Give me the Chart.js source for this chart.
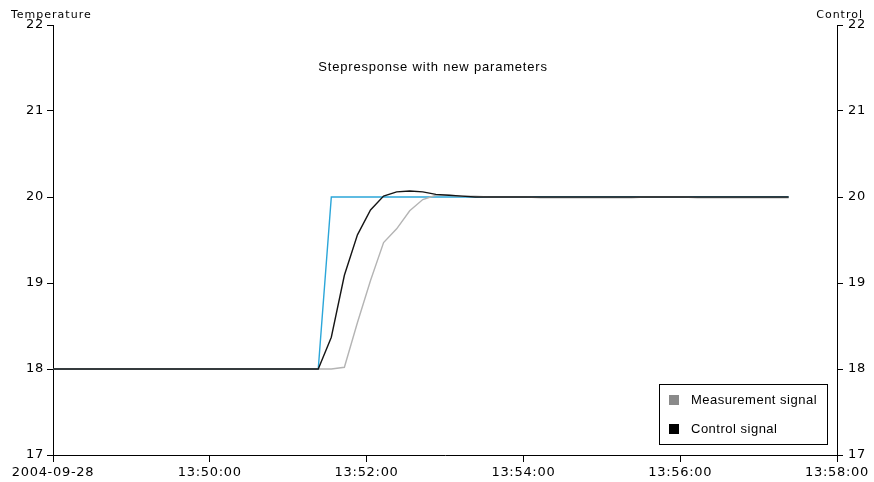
<!DOCTYPE html>
<html>
<head>
<meta charset="utf-8">
<script src="https://cdn.jsdelivr.net/npm/chart.js@4/dist/chart.umd.min.js"></script>
<style>
  html, body { margin: 0; padding: 0; background: #fff; }
  #wrap { width: 874px; height: 482px; position: relative; }
</style>
</head>
<body>
<div id="wrap"><canvas id="c" width="874" height="482"></canvas></div>
<script>
// ---- data (seconds after 13:48:00) ----
const chartTitle = 'Stepresponse with new parameters';
const leftAxisTitle = 'Temperature';
const rightAxisTitle = 'Control';
const xTickLabels = ['2004-09-28', '13:50:00', '13:52:00', '13:54:00', '13:56:00', '13:58:00'];
const yTickValues = [17, 18, 19, 20, 21, 22];

const times = [
  -7, 3, 13, 23, 33, 43, 53, 63, 73, 83, 93, 103, 113, 123, 133, 143, 153, 163, 173, 183, 193,
  203, 213, 223, 233, 243, 253, 263, 273, 283, 293, 303, 313, 323, 333, 343, 353, 363, 373,
  383, 393, 403, 413, 423, 433, 443, 453, 463, 473, 483, 493, 503, 513, 523, 533, 543, 553, 563
];
const controlSignal = [
  18, 18, 18, 18, 18, 18, 18, 18, 18, 18, 18, 18, 18, 18, 18, 18, 18, 18, 18, 18, 18,
  18, 18.37, 19.09, 19.56, 19.85, 20.01, 20.06, 20.07, 20.06, 20.03, 20.02, 20.01, 20, 20, 20, 20, 20, 20,
  20, 20, 20, 20, 20, 20, 20, 20, 20, 20, 20, 20, 20, 20, 20, 20, 20, 20, 20
];
const measurementSignal = [
  18, 18, 18, 18, 18, 18, 18, 18, 18, 18, 18, 18, 18, 18, 18, 18, 18, 18, 18, 18, 18,
  18, 18, 18.02, 18.54, 19.03, 19.47, 19.63, 19.84, 19.97, 20.02, 20.02, 20.01, 20.01, 20, 20, 20, 20, 19.99,
  19.99, 19.99, 19.99, 19.99, 19.99, 19.99, 19.99, 20, 20, 20, 20, 19.99, 19.99, 19.99, 19.99, 19.99, 19.99, 19.99, 19.99
];
const setpoint = [
  18, 18, 18, 18, 18, 18, 18, 18, 18, 18, 18, 18, 18, 18, 18, 18, 18, 18, 18, 18, 18,
  18, 20, 20, 20, 20, 20, 20, 20, 20, 20, 20, 20, 20, 20, 20, 20, 20, 20,
  20, 20, 20, 20, 20, 20, 20, 20, 20, 20, 20, 20, 20, 20, 20, 20, 20, 20, 20
];

const toXY = arr => times.map((t, i) => ({ x: t, y: arr[i] }));

const tickFont = { family: "'DejaVu Sans', Verdana, sans-serif", size: 13 };
const TICK_SPACING = '0.7px';

const spacingPlugin = {
  id: 'spacing',
  beforeUpdate(chart) { chart.ctx.letterSpacing = TICK_SPACING; },
  beforeLayout(chart) { chart.ctx.letterSpacing = TICK_SPACING; },
  beforeDraw(chart) { chart.ctx.letterSpacing = TICK_SPACING; }
};

const decorPlugin = {
  id: 'decor',
  afterDraw(chart) {
    const ctx = chart.ctx;
    const a = chart.chartArea;
    ctx.save();
    // chart title inside plot
    ctx.letterSpacing = '0.8px';
    ctx.fillStyle = '#000';
    ctx.font = "13px 'Liberation Sans', Arial, sans-serif";
    ctx.textAlign = 'center';
    ctx.textBaseline = 'middle';
    ctx.fillText(chartTitle, (a.left + a.right) / 2 - 12, a.top + 42);
    // axis titles
    ctx.letterSpacing = '1px';
    ctx.font = "11px 'DejaVu Sans', Verdana, sans-serif";
    ctx.textAlign = 'left';
    ctx.fillText(leftAxisTitle, 11, a.top - 10);
    ctx.textAlign = 'right';
    ctx.fillText(rightAxisTitle, a.right + 26, a.top - 10);
    // legend box
    const bx = a.right - 178, by = a.bottom - 71, bw = 168, bh = 60;
    ctx.fillStyle = '#fff';
    ctx.fillRect(bx, by, bw, bh);
    ctx.strokeStyle = '#000';
    ctx.lineWidth = 1;
    ctx.strokeRect(bx + 0.5, by + 0.5, bw, bh);
    ctx.letterSpacing = '0.5px';
    ctx.font = "13px 'Liberation Sans', Arial, sans-serif";
    ctx.textAlign = 'left';
    ctx.textBaseline = 'middle';
    const items = chart.data.datasets.filter(d => d.showInLegend).sort((p, q) => p.legendOrder - q.legendOrder);
    items.forEach((d, i) => {
      const cy = by + 16 + i * 29;
      ctx.fillStyle = d.legendColor;
      ctx.fillRect(bx + 10, cy - 5, 10, 10);
      ctx.fillStyle = '#000';
      ctx.fillText(d.label, bx + 32, cy);
    });
    ctx.restore();
  }
};

new Chart(document.getElementById('c'), {
  type: 'line',
  data: {
    datasets: [
      { label: 'Control signal', data: toXY(controlSignal), borderColor: '#151515', borderWidth: 1.4,
        showInLegend: true, legendOrder: 1, legendColor: '#000', yAxisID: 'y' },
      { label: 'Measurement signal', data: toXY(measurementSignal), borderColor: '#b4b4b4', borderWidth: 1.4,
        showInLegend: true, legendOrder: 0, legendColor: '#8a8a8a', yAxisID: 'y' },
      { label: 'Setpoint', data: toXY(setpoint), borderColor: '#2ba6d9', borderWidth: 1.4,
        showInLegend: false, yAxisID: 'y' }
    ]
  },
  options: {
    responsive: false,
    animation: false,
    devicePixelRatio: 1,
    layout: { padding: { top: 25, left: 0, right: 0, bottom: 0 } },
    elements: { point: { radius: 0 }, line: { tension: 0 } },
    plugins: { legend: { display: false }, title: { display: false }, tooltip: { enabled: false } },
    scales: {
      x: {
        type: 'linear', position: 'bottom', min: 0, max: 600,
        afterBuildTicks(s) { s.ticks = xTickLabels.map((_, i) => ({ value: i * 120 })); },
        ticks: {
          callback: (v, i) => xTickLabels[i],
          color: '#000', font: tickFont, padding: 3, maxRotation: 0, autoSkip: false
        },
        grid: { drawOnChartArea: false, drawTicks: true, tickLength: 7, color: '#000', lineWidth: 1 },
        border: { display: true, color: '#000', width: 1 },
        afterFit(s) { s.height = 27; }
      },
      y: {
        position: 'left', min: 17, max: 22,
        afterBuildTicks(s) { s.ticks = yTickValues.map(v => ({ value: v })); },
        ticks: { color: '#000', font: tickFont, padding: 3 },
        grid: { drawOnChartArea: false, drawTicks: true, tickLength: 6, color: '#000', lineWidth: 1 },
        border: { display: true, color: '#000', width: 1 },
        afterFit(s) { s.width = 53; }
      },
      y2: {
        position: 'right', min: 17, max: 22,
        afterBuildTicks(s) { s.ticks = yTickValues.map(v => ({ value: v })); },
        ticks: { color: '#000', font: tickFont, padding: 5 },
        grid: { drawOnChartArea: false, drawTicks: true, tickLength: 6, color: '#000', lineWidth: 1 },
        border: { display: true, color: '#000', width: 1 },
        afterFit(s) { s.width = 37; }
      }
    }
  },
  plugins: [spacingPlugin, decorPlugin]
});
</script>
</body>
</html>
